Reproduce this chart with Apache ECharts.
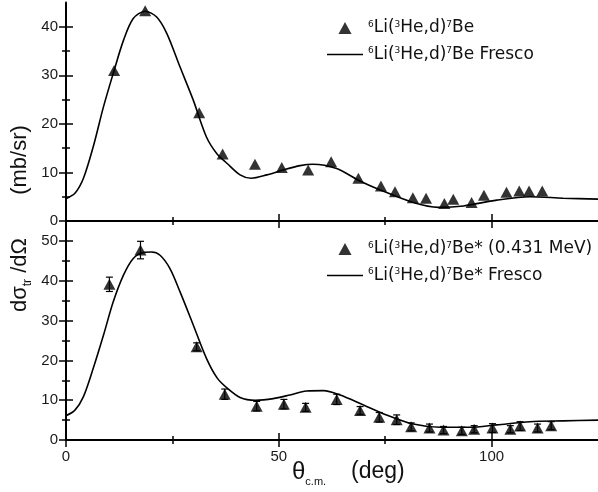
<!DOCTYPE html>
<html>
<head>
<meta charset="utf-8">
<script src="https://cdn.jsdelivr.net/npm/echarts@6/dist/echarts.min.js"></script>
<style>
  html, body { margin: 0; padding: 0; background: #fff; }
  #chart { width: 598px; height: 492px; }
</style>
</head>
<body>
<div id="chart"></div>
<script>
// ground state 7Be: measured points
const groundAngles = [11.3, 18.6, 31.3, 36.8, 44.4, 50.7, 56.9, 62.3, 68.7, 74.0, 77.3, 81.5, 84.6, 88.9, 91.0, 95.3, 98.2, 103.5, 106.5, 108.8, 111.9];
const groundValues = [31.0, 43.3, 22.3, 13.8, 11.7, 11.0, 10.5, 12.2, 8.8, 7.2, 6.0, 4.8, 4.7, 3.6, 4.5, 3.8, 5.3, 5.9, 6.2, 6.2, 6.2];

// ground state: Fresco curve
const groundFitAngles = [0, 2.1, 4.1, 6.4, 8.8, 11.1, 13.5, 15.8, 18.6, 21.3, 23.7, 26.8, 29.9, 33.0, 35.5, 37.8, 40.9, 43.5, 47.2, 51, 55, 58, 63.6, 68.7, 73.8, 81.6, 87.5, 93.4, 101.2, 109, 116.8, 125];
const groundFitValues = [4.6, 5.7, 8.8, 15.3, 23.5, 30.4, 37.2, 41.7, 43.2, 42.0, 38.6, 31.7, 24.9, 17.3, 13.8, 11.9, 9.5, 8.8, 9.5, 10.5, 11.4, 11.7, 10.8, 8.4, 6.4, 3.8, 2.8, 3.1, 4.3, 5.0, 4.7, 4.5];

// excited state 7Be* (0.431 MeV): measured points with errors
const excitedAngles = [10.2, 17.5, 30.7, 37.3, 44.8, 51.2, 56.3, 63.6, 69.1, 73.6, 77.7, 81.1, 85.4, 88.7, 93.0, 95.9, 100.2, 104.4, 106.7, 110.8, 114.0];
const excitedValues = [39.1, 47.7, 23.4, 11.5, 8.5, 9.0, 8.2, 10.2, 7.4, 5.7, 5.1, 3.3, 3.0, 2.5, 2.3, 2.7, 3.0, 2.7, 3.5, 3.0, 3.6];
const excitedErrors = [1.8, 2.2, 1.0, 1.3, 1.2, 1.2, 1.0, 1.3, 1.0, 1.2, 1.2, 1.0, 1.0, 0.9, 0.9, 0.9, 1.1, 0.9, 1.1, 1.0, 1.0];

// excited state: Fresco curve
const excitedFitAngles = [0, 2.1, 4.1, 6.4, 8.8, 11.1, 13.5, 15.8, 18.2, 20.1, 22.1, 24.4, 26.8, 29.9, 33.0, 35.5, 37.8, 40.9, 44.5, 48.7, 52.6, 56.5, 60.5, 64.4, 69.9, 75.3, 81.6, 87.9, 94.9, 101.2, 109, 116.8, 125];
const excitedFitValues = [6.1, 7.5, 10.9, 18.0, 26.3, 34.7, 41.4, 45.6, 47.1, 47.2, 46.4, 43.1, 37.2, 28.9, 20.5, 15.6, 13.1, 10.7, 10.0, 10.4, 11.3, 12.3, 12.4, 11.3, 8.8, 6.3, 4.0, 3.2, 3.2, 3.8, 4.6, 4.8, 5.0];

// ticks
const angleMajor = [0, 50, 100];
const angleMinor = [25, 75];
const groundMajor = [0, 10, 20, 30, 40];
const groundMinor = [5, 15, 25, 35];
const excitedMajor = [0, 10, 20, 30, 40, 50];
const excitedMinor = [5, 15, 25, 35, 45];

const NAMES = {
  gData: '6Li(3He,d)7Be',
  gFit: '6Li(3He,d)7Be Fresco',
  eData: '6Li(3He,d)7Be* (0.431 MeV)',
  eFit: '6Li(3He,d)7Be* Fresco'
};
const LEGEND_RICH = {
  [NAMES.gData]: '{s|6}{n|Li(}{s|3}{n|He,d)}{s|7}{n|Be}',
  [NAMES.gFit]: '{s|6}{n|Li(}{s|3}{n|He,d)}{s|7}{n|Be Fresco}',
  [NAMES.eData]: '{s|6}{n|Li(}{s|3}{n|He,d)}{s|7}{n|Be* (0.431 MeV)}',
  [NAMES.eFit]: '{s|6}{n|Li(}{s|3}{n|He,d)}{s|7}{n|Be* Fresco}'
};
const TRIANGLE_ICON = 'path://M0,11L6,0L12,11Z';
const LINE_ICON = 'path://M0,0L40,0L40,1.7L0,1.7Z';

const FONT = '"Liberation Sans", Arial, sans-serif';
const LEG_FONT = '"DejaVu Sans", sans-serif';
const INK = '#000';

const zip = (xs, ys) => xs.map((x, i) => [x, ys[i]]);

function xAxes(grid, labels) {
  const base = { type: 'value', gridIndex: grid, min: 0, max: 125, splitLine: { show: false } };
  const line = { show: true, lineStyle: { color: INK, width: 2 } };
  return [
    { ...base, position: 'bottom', axisLine: line,
      axisTick: { inside: true, length: 7, customValues: angleMajor, lineStyle: { color: INK, width: 1.5 } },
      axisLabel: { show: labels, customValues: angleMajor, margin: 9, fontSize: 15, fontFamily: FONT, color: '#1a1a1a' } },
    { ...base, position: 'bottom', axisLine: { show: false },
      axisTick: { inside: true, length: 4, customValues: angleMinor, lineStyle: { color: INK, width: 1.5 } },
      axisLabel: { show: false } },
    { ...base, position: 'top', axisLine: line,
      axisTick: { inside: true, length: 7, customValues: angleMajor, lineStyle: { color: INK, width: 1.5 } },
      axisLabel: { show: false } },
    { ...base, position: 'top', axisLine: { show: false },
      axisTick: { inside: true, length: 4, customValues: angleMinor, lineStyle: { color: INK, width: 1.5 } },
      axisLabel: { show: false } }
  ];
}

function yAxes(grid, max, major, minor) {
  const base = { type: 'value', gridIndex: grid, min: 0, max: max, splitLine: { show: false } };
  return [
    { ...base, position: 'left', axisLine: { show: true, lineStyle: { color: INK, width: 2 } },
      axisTick: { inside: true, length: 7, customValues: major, lineStyle: { color: INK, width: 1.5 } },
      axisLabel: { customValues: major, margin: 8, fontSize: 15, fontFamily: FONT, color: '#1a1a1a' } },
    { ...base, position: 'left', axisLine: { show: false },
      axisTick: { inside: true, length: 4, customValues: minor, lineStyle: { color: INK, width: 1.5 } },
      axisLabel: { show: false } },
    { ...base, position: 'right', axisLine: { show: false },
      axisTick: { inside: true, length: 7, customValues: major, lineStyle: { color: INK, width: 1.5 } },
      axisLabel: { show: false } },
    { ...base, position: 'right', axisLine: { show: false },
      axisTick: { inside: true, length: 4, customValues: minor, lineStyle: { color: INK, width: 1.5 } },
      axisLabel: { show: false } }
  ];
}

function legend(top, dataName, fitName) {
  return {
    data: [{ name: dataName, icon: TRIANGLE_ICON }, { name: fitName, icon: LINE_ICON }],
    orient: 'vertical', left: 322, top: top,
    itemWidth: 36, itemHeight: 12, itemGap: 8,
    symbolKeepAspect: true,
    formatter: (name) => LEGEND_RICH[name],
    textStyle: {
      rich: {
        n: { fontSize: 17, fontFamily: LEG_FONT, color: '#111', lineHeight: 20 },
        s: { fontSize: 9, fontFamily: LEG_FONT, color: '#111', verticalAlign: 'top', lineHeight: 20, padding: [2, 0, 0, 0] }
      }
    }
  };
}

const errorBars = excitedAngles.map((a, i) => [a, excitedValues[i] - excitedErrors[i], excitedValues[i] + excitedErrors[i]]);

const chart = echarts.init(document.getElementById('chart'), null, { renderer: 'canvas' });

const option = {
  animation: false,
  backgroundColor: '#fff',
  grid: [
    { left: 66, right: 0, top: 2.5, height: 218.5 },
    { left: 66, right: 0, top: 221, height: 219 }
  ],
  xAxis: [...xAxes(0, false), ...xAxes(1, true)],
  yAxis: [...yAxes(0, 45, groundMajor, groundMinor), ...yAxes(1, 55, excitedMajor, excitedMinor)],
  legend: [legend(13, NAMES.gData, NAMES.gFit), legend(234, NAMES.eData, NAMES.eFit)],
  series: [
    { name: NAMES.gFit, type: 'line', xAxisIndex: 0, yAxisIndex: 0, data: zip(groundFitAngles, groundFitValues),
      symbol: 'none', smooth: 0.3, lineStyle: { color: INK, width: 1.6 }, itemStyle: { color: INK } },
    { name: NAMES.gData, type: 'scatter', xAxisIndex: 0, yAxisIndex: 0, data: zip(groundAngles, groundValues),
      symbol: 'triangle', symbolSize: [12, 11], itemStyle: { color: INK } },
    { name: NAMES.eFit, type: 'line', xAxisIndex: 4, yAxisIndex: 4, data: zip(excitedFitAngles, excitedFitValues),
      symbol: 'none', smooth: 0.3, lineStyle: { color: INK, width: 1.6 }, itemStyle: { color: INK } },
    { name: 'error', type: 'custom', xAxisIndex: 4, yAxisIndex: 4, data: errorBars,
      encode: { x: 0, y: [1, 2] },
      renderItem: (params, api) => {
        const x = api.value(0);
        const hi = api.coord([x, api.value(2)]);
        const lo = api.coord([x, api.value(1)]);
        const cap = 3.5;
        const style = { stroke: INK, lineWidth: 1.2 };
        return {
          type: 'group',
          children: [
            { type: 'line', shape: { x1: hi[0], y1: hi[1], x2: lo[0], y2: lo[1] }, style },
            { type: 'line', shape: { x1: hi[0] - cap, y1: hi[1], x2: hi[0] + cap, y2: hi[1] }, style },
            { type: 'line', shape: { x1: lo[0] - cap, y1: lo[1], x2: lo[0] + cap, y2: lo[1] }, style }
          ]
        };
      } },
    { name: NAMES.eData, type: 'scatter', xAxisIndex: 4, yAxisIndex: 4, data: zip(excitedAngles, excitedValues),
      symbol: 'triangle', symbolSize: [12, 11], itemStyle: { color: INK } }
  ],
  graphic: [
    { type: 'text', x: 20, y: 160, rotation: Math.PI / 2,
      style: { text: '(mb/sr)', font: '22px ' + FONT, fill: '#111', align: 'center', verticalAlign: 'middle' } },
    { type: 'text', x: 20, y: 275, rotation: Math.PI / 2,
      style: { text: '{a|dσ}{b|tr}{a| /dΩ}', align: 'center', verticalAlign: 'middle',
        rich: {
          a: { fontSize: 22, fontFamily: FONT, fill: '#111', lineHeight: 28 },
          b: { fontSize: 12, fontFamily: FONT, fill: '#111', lineHeight: 28, verticalAlign: 'bottom' }
        } } },
    { type: 'text', x: 292, y: 472,
      style: { text: '{a|θ}{b|c.m.}', align: 'left', verticalAlign: 'middle',
        rich: {
          a: { fontSize: 24, fontFamily: FONT, fill: '#111', lineHeight: 30 },
          b: { fontSize: 11, fontFamily: FONT, fill: '#111', lineHeight: 30, verticalAlign: 'bottom' }
        } } },
    { type: 'text', x: 351, y: 472,
      style: { text: '(deg)', font: '23px ' + FONT, fill: '#111', align: 'left', verticalAlign: 'middle' } }
  ]
};

chart.setOption(option);
</script>
</body>
</html>
